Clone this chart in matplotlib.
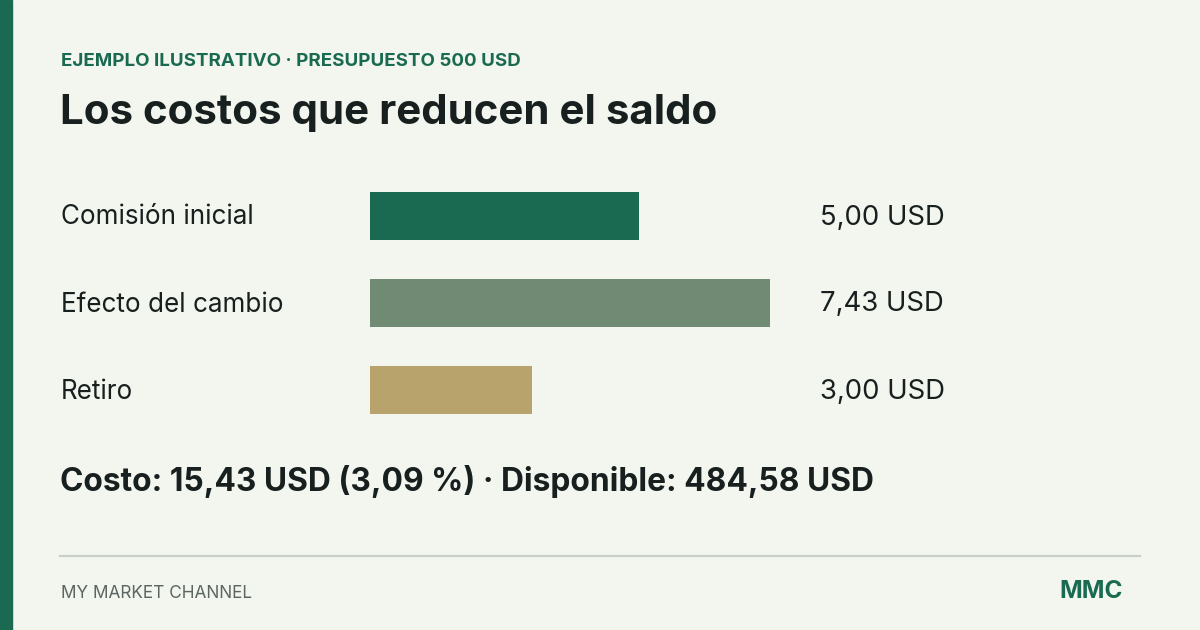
import matplotlib

matplotlib.use("Agg")
import matplotlib.pyplot as plt
from matplotlib.transforms import blended_transform_factory

plt.rcParams["font.family"] = ["Inter", "DejaVu Sans"]

categories = ["Comisión inicial", "Efecto del cambio", "Retiro"]
values = [5.00, 7.43, 3.00]
value_labels = ["5,00 USD", "7,43 USD", "3,00 USD"]
bar_colors = ["#196a50", "#718a74", "#b8a36c"]

kicker = "EJEMPLO ILUSTRATIVO · PRESUPUESTO 500 USD"
title = "Los costos que reducen el saldo"
summary = "Costo: 15,43 USD (3,09 %) · Disponible: 484,58 USD"
footer_left = "MY MARKET CHANNEL"
footer_right = "MMC"

BG = "#f3f5ef"
GREEN = "#196a50"
INK = "#17201e"
W, H = 1200, 630

fig = plt.figure(figsize=(W / 100, H / 100), dpi=100, facecolor=BG)


def px(x, y):
    # pixel coords (top-left origin) -> figure fraction
    return x / W, 1 - y / H


# left accent stripe
fig.patches.append(plt.Rectangle((0, 0), 12 / W, 1, transform=fig.transFigure,
                                 color=GREEN, zorder=0))

fig.text(*px(61, 66), kicker, fontsize=13.5, fontweight="bold", color=GREEN, va="baseline")
fig.text(*px(60, 124), title, fontsize=30.25, fontweight="bold", color=INK, va="baseline")

# bar axes: x from 370px to 770px, rows pitch 87px
left, right = 370, 770
top, bottom = 172.5, 433.5
ax = fig.add_axes([left / W, 1 - bottom / H, (right - left) / W, (bottom - top) / H])
ax.set_facecolor("none")
ypos = list(range(len(categories)))
ax.barh(ypos, values, height=48 / 87, color=bar_colors)
ax.set_xlim(0, max(values))
ax.set_ylim(len(categories) - 0.5, -0.5)
ax.axis("off")

# labels sit on a baseline ~8px below each bar centre
tr = blended_transform_factory(fig.transFigure, ax.transData)
for y, cat, lab in zip(ypos, categories, value_labels):
    yb = y + 8.5 / 87
    ax.text(61 / W, yb, cat, transform=tr, fontsize=18.75, color=INK, va="baseline", ha="left")
    ax.text(820 / W, yb, lab, transform=tr, fontsize=19.8, color=INK, va="baseline", ha="left")

fig.text(*px(60, 490.5), summary, fontsize=22.85, fontweight="bold", color=INK, va="baseline")

fig.add_artist(plt.Line2D([60 / W, 1140 / W], [1 - 556 / H] * 2, transform=fig.transFigure,
                          color="#c9d1c7", lw=1.6))
fig.text(*px(61, 598), footer_left, fontsize=12.4, color="#5b6561", va="baseline")
fig.text(*px(1123, 598), footer_right, fontsize=17.5, fontweight="bold", color=GREEN,
         va="baseline", ha="right")

fig.savefig("out.png", dpi=100, facecolor=BG)
